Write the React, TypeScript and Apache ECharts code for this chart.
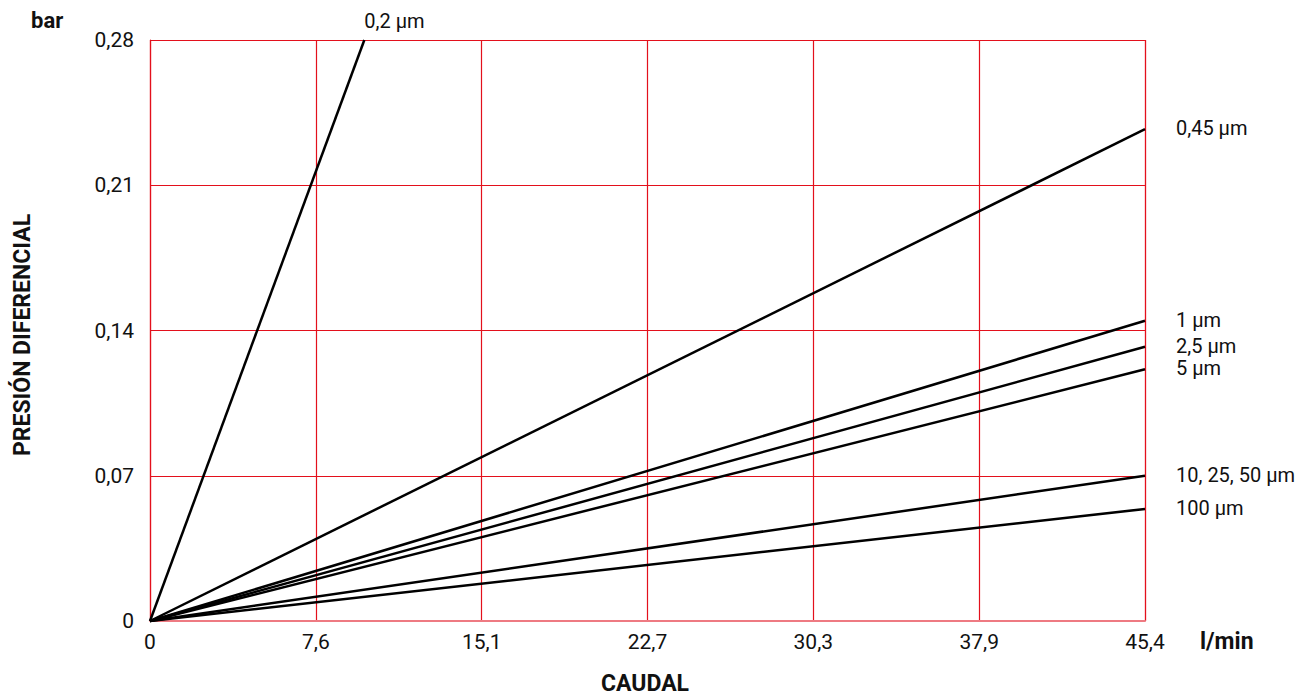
import React, { useEffect, useRef } from "react";
import * as echarts from "echarts";

const xMax = 45.4;
const xTickLabels = ["0", "7,6", "15,1", "22,7", "30,3", "37,9", "45,4"];
const yTickValues = [0, 0.07, 0.14, 0.21, 0.28];

const seriesNames = ["0,2 µm", "0,45 µm", "1 µm", "2,5 µm", "5 µm", "10, 25, 50 µm", "100 µm"];
const seriesEndX = [9.78, 45.4, 45.4, 45.4, 45.4, 45.4, 45.4];
const seriesEndY = [0.28, 0.237, 0.1447, 0.1322, 0.1213, 0.07, 0.054];

const RED = "#e3101c";
const PINK = "#ee7a82";
const FONT = "Roboto";

export default function App() {
  const ref = useRef<HTMLDivElement>(null);
  useEffect(() => {
    if (!ref.current) return;
    const chart = echarts.init(ref.current, undefined, { renderer: "svg" });
    const step = xMax / 6;
    const series = seriesNames.map((name, i) => ({
      type: "line",
      name,
      data: [
        [0, 0],
        [seriesEndX[i], seriesEndY[i]],
      ],
      symbol: "none",
      lineStyle: { color: "#000", width: 2.5 },
      clip: false,
      endLabel: {
        show: true,
        formatter: "{a}",
        color: "#111",
        fontFamily: FONT,
        fontSize: 20,
        distance: i === 0 ? 0 : 31,
        offset: i === 0 ? [0, -19] : [0, -1],
      },
      z: 5,
    }));
    chart.setOption({
      animation: false,
      grid: { left: 150, right: 166, top: 40, bottom: 74, containLabel: false },
      xAxis: {
        type: "value",
        min: 0,
        max: xMax,
        interval: step,
        axisLine: { show: true, lineStyle: { color: PINK, width: 2 } },
        axisTick: { show: false },
        splitLine: {
          show: true,
          lineStyle: { color: [RED, RED, RED, RED, RED, RED, PINK], width: 1.2 },
        },
        axisLabel: {
          margin: 10,
          color: "#111",
          fontFamily: FONT,
          fontSize: 21,
          formatter: (v: number) => xTickLabels[Math.round(v / step)] ?? "",
        },
      },
      yAxis: {
        type: "value",
        min: 0,
        max: 0.28,
        interval: 0.07,
        axisLine: { show: true, lineStyle: { color: RED, width: 1.2 } },
        axisTick: { show: false },
        splitLine: {
          show: true,
          lineStyle: { color: [PINK, RED, RED, RED, RED], width: 1.2 },
        },
        axisLabel: {
          margin: 16,
          color: "#111",
          fontFamily: FONT,
          fontSize: 21,
          formatter: (v: number) => {
            const idx = yTickValues.findIndex((t) => Math.abs(t - v) < 1e-9);
            const t = idx >= 0 ? yTickValues[idx] : v;
            return t === 0 ? "0" : t.toFixed(2).replace(".", ",");
          },
        },
      },
      series,
      graphic: [
        {
          type: "text",
          x: 31,
          y: 20,
          style: { text: "bar", font: `bold 22px ${FONT}`, fill: "#111", verticalAlign: "middle" },
        },
        {
          type: "text",
          x: 1200,
          y: 641,
          style: { text: "l/min", font: `bold 23px ${FONT}`, fill: "#111", verticalAlign: "middle" },
        },
        {
          type: "text",
          x: 645,
          y: 683,
          style: {
            text: "CAUDAL",
            font: `bold 23px ${FONT}`,
            fill: "#111",
            align: "center",
            verticalAlign: "middle",
          },
        },
        {
          type: "text",
          x: 22,
          y: 335,
          rotation: Math.PI / 2,
          style: {
            text: "PRESIÓN DIFERENCIAL",
            font: `bold 23px ${FONT}`,
            fill: "#111",
            align: "center",
            verticalAlign: "middle",
          },
        },
      ],
    });
    return () => chart.dispose();
  }, []);
  return (
    <div
      ref={ref}
      style={{ position: "absolute", left: 0, top: 0, width: 1311, height: 695, background: "#fff" }}
    />
  );
}
